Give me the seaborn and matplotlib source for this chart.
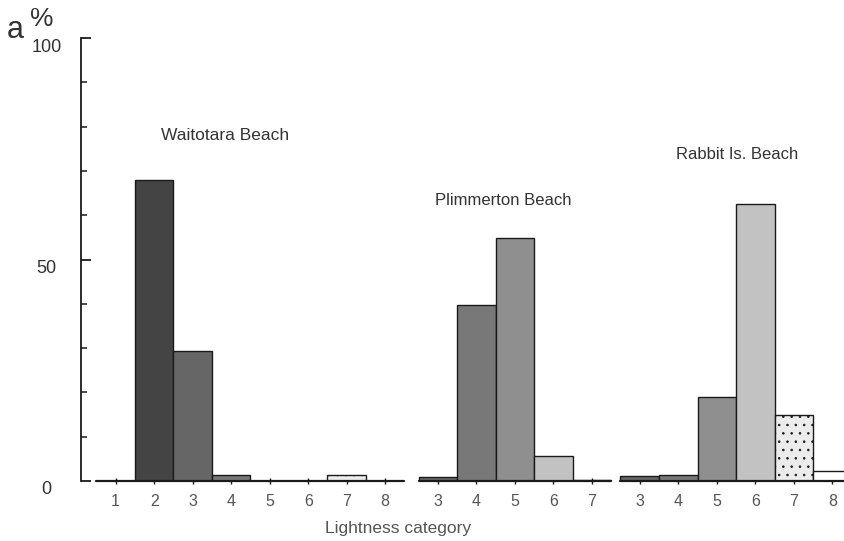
import pandas as pd
import matplotlib.pyplot as plt
import matplotlib.colors as mcolors
import matplotlib.transforms as mtransforms
import seaborn as sns

# Werte (Anteil in %)
beaches = ['Waitotara Beach', 'Plimmerton Beach', 'Rabbit Is. Beach']
cats_waitotara = [1, 2, 3, 4, 5, 6, 7, 8]
vals_waitotara = [0, 68, 29.3, 1.3, 0, 0, 1.4, 0]
cats_plimmerton = [3, 4, 5, 6, 7]
vals_plimmerton = [0.9, 39.7, 54.9, 5.6, 0.3]
cats_rabbit = [3, 4, 5, 6, 7, 8]
vals_rabbit = [1.2, 1.3, 19.0, 62.5, 14.9, 2.3]

# Grautoene je Helligkeitskategorie
shades = {'1': '#2a2a2a', '2': '#444444', '3': '#666666', '4': '#787878',
          '5': '#8f8f8f', '6': '#c2c2c2', '7': '#ececec', '8': '#ffffff'}

# Startposition jeder Gruppe auf der x-Achse (in Balkenbreiten)
group_start = [0.9, 9.27, 14.51]

rows = []
groups = [(cats_waitotara, vals_waitotara), (cats_plimmerton, vals_plimmerton), (cats_rabbit, vals_rabbit)]
for b, (cats, vals), start in zip(beaches, groups, group_start):
    for c, v in zip(cats, vals):
        rows.append({'beach': b, 'cat': str(c), 'pos': start + c - cats[0], 'value': v})
data = pd.DataFrame(rows)

sns.set_style('white')
plt.rcParams['font.family'] = ['Liberation Sans', 'DejaVu Sans']
plt.rcParams['hatch.linewidth'] = 0.6

fig = plt.figure(figsize=(8.45, 5.41), dpi=100)
ax = fig.add_axes([81 / 845, 60 / 541, 764 / 845, 443 / 541])

sns.barplot(data=data, x='pos', y='value', hue='cat', palette=shades, native_scale=True,
            width=1, dodge=False, edgecolor='#1a1a1a', linewidth=1.0, legend=False, ax=ax)

# Punktraster fuer Kategorie 7
dot_color = mcolors.to_rgba(shades['7'])
for p in ax.patches:
    if mcolors.to_rgba(p.get_facecolor()) == dot_color:
        p.set_hatch('..')

# Grundlinie je Gruppe
for b in beaches:
    sub = data[data['beach'] == b]
    ax.plot([sub['pos'].min() - 0.5, sub['pos'].max() + 0.5], [0, 0], color='#1a1a1a', lw=1.6, clip_on=False)

ax.set_xlim(0, 19.84)
ax.set_ylim(0, 100)
ax.set_xticks(data['pos'])
ax.set_xticklabels(data['cat'])
ax.tick_params(axis='x', bottom=True, direction='inout', length=5, width=1, color='#1a1a1a',
               labelsize=11.5, labelcolor='#555555', pad=7)
ax.set_yticks([0, 50, 100])
ax.set_yticks(range(10, 100, 10), minor=True)
ax.set_yticklabels(['0', '50', '100'])
ax.tick_params(axis='y', which='major', left=True, direction='in', length=7.5, width=1.3,
               color='#1a1a1a', labelsize=13, labelcolor='#333333', pad=25)
ax.tick_params(axis='y', which='minor', left=True, direction='in', length=4.5, width=1.1, color='#1a1a1a')
offset = mtransforms.ScaledTranslation(0, -7 / 100, fig.dpi_scale_trans)
for lab in ax.get_yticklabels():
    lab.set_horizontalalignment('center')
    lab.set_transform(lab.get_transform() + offset)

for side in ['top', 'right', 'bottom']:
    ax.spines[side].set_visible(False)
ax.spines['left'].set_linewidth(1.3)
ax.spines['left'].set_color('#1a1a1a')

ax.set_xlabel('Lightness category', fontsize=12.5, color='#555555', va='center')
ax.xaxis.set_label_coords(0.415, -47 / 443)
ax.set_ylabel('')

# Beschriftung der Straende
ax.text(3.74, 78, beaches[0], ha='center', va='center', fontsize=12.5, color='#333333')
ax.text(10.96, 63.4, beaches[1], ha='center', va='center', fontsize=12, color='#333333')
ax.text(17.04, 73.6, beaches[2], ha='center', va='center', fontsize=12, color='#333333')

fig.text(7 / 845, 1 - 30 / 541, 'a', fontsize=22, color='#333333', ha='left', va='center')
fig.text(42 / 845, 1 - 19 / 541, '%', fontsize=19, color='#333333', ha='center', va='center')

plt.savefig('out.png', dpi=100)
